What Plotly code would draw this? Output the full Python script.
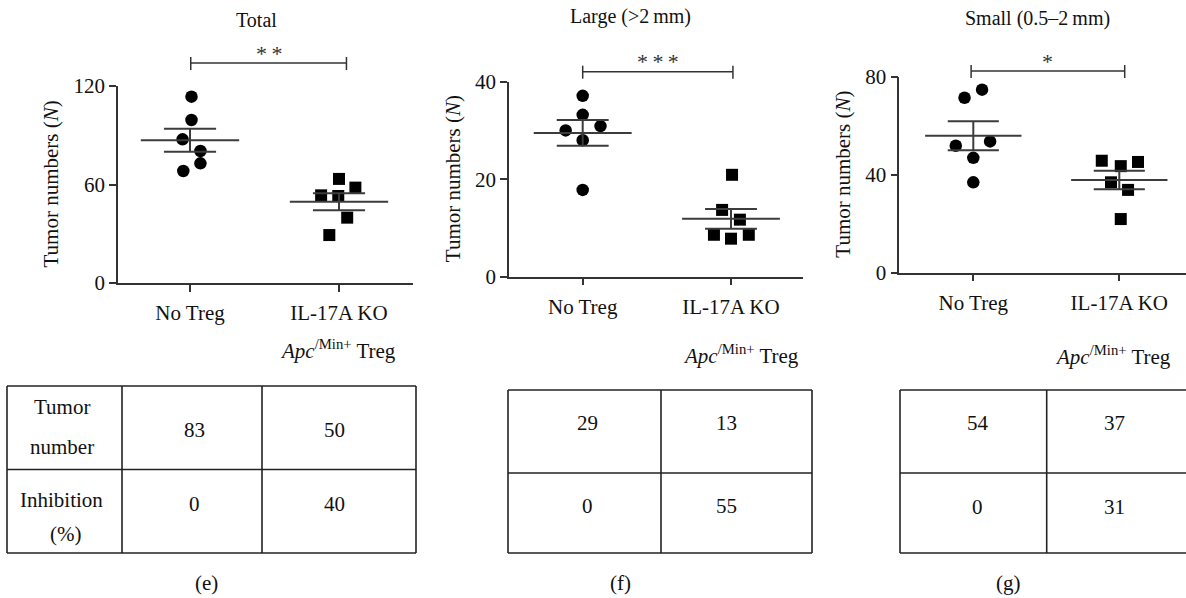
import numpy as np
import plotly.graph_objects as go

W, H = 1186, 598
FONT = "Liberation Serif, 'Times New Roman', Times, 'DejaVu Serif', serif"
INK = "#111111"
LINE = "#333333"

# ---------------- data ----------------
groups = ["No Treg", "IL-17A KO"]
titles = ["Total", "Large (>2\u2009mm)", "Small (0.5\u20132\u2009mm)"]
stars = ["*\u2009*", "*\u2009*\u2009*", "*"]
captions = ["(e)", "(f)", "(g)"]
y_ticks = [[0, 60, 120], [0, 20, 40], [0, 40, 80]]
y_max = [120, 40, 80]

total_no_treg = [113.5, 99.3, 87.5, 80.4, 72.9, 68.2]
total_ko = [63.4, 58.1, 53.4, 53.0, 39.8, 29.2]
large_no_treg = [37.1, 33.2, 30.9, 30.0, 28.0, 17.8]
large_ko = [20.9, 13.7, 11.7, 8.6, 7.8, 8.6]
small_no_treg = [74.7, 71.4, 53.6, 51.8, 46.9, 36.9]
small_ko = [45.7, 45.2, 43.5, 36.9, 33.8, 21.9]

# horizontal scatter offsets of the dots (category units)
jit_total_no = [0.01, 0.01, -0.05, 0.07, 0.07, -0.045]
jit_total_ko = [0.0, 0.11, -0.12, -0.005, 0.055, -0.065]
jit_large_no = [0.0, 0.0, 0.12, -0.115, 0.0, 0.0]
jit_large_ko = [0.007, -0.06, 0.06, -0.115, 0.0, 0.12]
jit_small_no = [0.06, -0.06, 0.115, -0.12, 0.0, 0.0]
jit_small_ko = [-0.12, 0.128, 0.01, -0.057, 0.06, 0.01]

table_tumor_number = [[83, 50], [29, 13], [54, 37]]
table_inhibition = [[0, 40], [0, 55], [0, 31]]
row_labels_1 = ["Tumor", "number"]
row_labels_2 = ["Inhibition", "(%)"]
treg_label = "<i>Apc</i><sup>/Min+</sup> Treg"

series = [
    (total_no_treg, total_ko, jit_total_no, jit_total_ko),
    (large_no_treg, large_ko, jit_large_no, jit_large_ko),
    (small_no_treg, small_ko, jit_small_no, jit_small_ko),
]

# ---------------- layout geometry (pixels) ----------------
axes_px = [
    (118, 413, 86, 283, 190, 339),
    (509, 803, 81.7, 276.7, 582.7, 731),
    (899.3, 1186, 76.7, 272.7, 973.3, 1119.3),
]
title_pos = [(256, 20), (630, 17), (1037, 19)]
bracket = [(0.005, 1.05, 63), (0.0, 1.013, 71.7), (-0.015, 1.037, 71)]
ytitle_x = [50, 453, 843]
treg_pos = [(338, 349), (741, 354), (1113, 355)]
tables = [
    dict(cols=[7, 122, 262, 416], rows=[386, 469.5, 553], ty=[430, 504]),
    dict(cols=[508, 661, 812], rows=[390, 473, 553], ty=[423, 506]),
    dict(cols=[900, 1046.7, 1192], rows=[390, 473, 553], ty=[423, 507]),
]
caption_pos = [(206, 583), (620, 583), (1008, 583)]


def px(x):
    return x / W


def py(y):
    return 1 - y / H


fig = go.Figure()
shapes = []
annotations = []

for i, (no, ko, jn, jk) in enumerate(series):
    x0, x1, top, bot, c0, c1 = axes_px[i]
    sfx = "" if i == 0 else str(i + 1)
    xa, ya = "x" + sfx, "y" + sfx
    unit = c1 - c0
    xr = [(x0 - c0) / unit, (x1 - c0) / unit]

    fig.add_trace(go.Scatter(
        x=[0 + j for j in jn], y=no, mode="markers", xaxis=xa, yaxis=ya,
        marker=dict(symbol="circle", size=12.5, color="black"), showlegend=False,
        cliponaxis=False))
    fig.add_trace(go.Scatter(
        x=[1 + j for j in jk], y=ko, mode="markers", xaxis=xa, yaxis=ya,
        marker=dict(symbol="square", size=12, color="black"), showlegend=False,
        cliponaxis=False))

    lx, ly = [], []
    for g, vals in enumerate([no, ko]):
        v = np.array(vals, dtype=float)
        m = v.mean()
        sem = v.std(ddof=1) / np.sqrt(len(v))
        lx += [g - 0.33, g + 0.33, None, g - 0.175, g + 0.175, None,
               g - 0.175, g + 0.175, None, g, g, None]
        ly += [m, m, None, m + sem, m + sem, None, m - sem, m - sem, None,
               m - sem, m + sem, None]
    fig.add_trace(go.Scatter(x=lx, y=ly, mode="lines", xaxis=xa, yaxis=ya,
                             line=dict(color="#3c3c3c", width=2),
                             showlegend=False, hoverinfo="skip"))

    xkw = dict(domain=[px(x0), px(x1)], range=xr, anchor=ya, automargin=False,
               tickvals=[0, 1], ticktext=groups, ticks="outside", ticklen=7,
               tickwidth=1.5, tickcolor=LINE, showline=True, linewidth=1.5,
               linecolor=LINE, showgrid=False, zeroline=False,
               tickfont=dict(family=FONT, size=21, color=INK),
               ticklabelstandoff=3, fixedrange=True)
    ykw = dict(domain=[py(bot), py(top)], range=[0, y_max[i]], anchor=xa, automargin=False,
               tickvals=y_ticks[i], ticks="outside", ticklen=7, tickwidth=1.5,
               tickcolor=LINE, showline=True, linewidth=1.5, linecolor=LINE,
               showgrid=False, zeroline=False,
               tickfont=dict(family=FONT, size=21, color=INK), fixedrange=True)
    fig.update_layout(**{"xaxis" + sfx: xkw, "yaxis" + sfx: ykw})

    annotations.append(dict(text=titles[i], x=px(title_pos[i][0]), y=py(title_pos[i][1]),
                            xref="paper", yref="paper", showarrow=False,
                            xanchor="center", yanchor="middle",
                            font=dict(family=FONT, size=20, color=INK)))
    bx0, bx1, by = bracket[i]
    shapes.append(dict(type="line", xref=xa, yref="paper", x0=bx0, x1=bx1,
                       y0=py(by), y1=py(by), line=dict(color=LINE, width=1.5)))
    for bx in (bx0, bx1):
        shapes.append(dict(type="line", xref=xa, yref="paper", x0=bx, x1=bx,
                           y0=py(by - 6), y1=py(by + 7), line=dict(color=LINE, width=1.5)))
    annotations.append(dict(text=stars[i], x=(bx0 + bx1) / 2, y=py(by - 10),
                            xref=xa, yref="paper", showarrow=False,
                            xanchor="center", yanchor="middle",
                            font=dict(family=FONT, size=22, color="#333333")))
    annotations.append(dict(text="Tumor numbers (<i>N</i>)", x=px(ytitle_x[i]),
                            y=py((top + bot) / 2), xref="paper", yref="paper",
                            showarrow=False, textangle=-90, xanchor="center",
                            yanchor="middle",
                            font=dict(family=FONT, size=21, color=INK)))
    annotations.append(dict(text=treg_label, x=px(treg_pos[i][0]), y=py(treg_pos[i][1]),
                            xref="paper", yref="paper", showarrow=False,
                            xanchor="center", yanchor="middle",
                            font=dict(family=FONT, size=21, color=INK)))

    t = tables[i]
    cols, rows = t["cols"], t["rows"]
    for r in rows:
        shapes.append(dict(type="line", xref="paper", yref="paper",
                           x0=px(cols[0]), x1=px(cols[-1]), y0=py(r), y1=py(r),
                           line=dict(color="#222222", width=1.6)))
    for c in cols:
        shapes.append(dict(type="line", xref="paper", yref="paper",
                           x0=px(c), x1=px(c), y0=py(rows[0]), y1=py(rows[-1]),
                           line=dict(color="#222222", width=1.6)))
    for g in range(2):
        dx = 0.03 if g == 0 else -0.03
        annotations.append(dict(text=str(table_tumor_number[i][g]), x=g + dx,
                                y=py(t["ty"][0]), xref=xa, yref="paper",
                                showarrow=False, xanchor="center", yanchor="middle",
                                font=dict(family=FONT, size=21, color=INK)))
        annotations.append(dict(text=str(table_inhibition[i][g]), x=g + dx,
                                y=py(t["ty"][1]), xref=xa, yref="paper",
                                showarrow=False, xanchor="center", yanchor="middle",
                                font=dict(family=FONT, size=21, color=INK)))
    if len(cols) == 4:
        cx = (cols[0] + cols[1]) / 2 - 3
        for lbl, yy in zip(row_labels_1, [407, 447]):
            annotations.append(dict(text=lbl, x=px(cx), y=py(yy), xref="paper", yref="paper",
                                    showarrow=False, xanchor="center", yanchor="middle",
                                    font=dict(family=FONT, size=21, color=INK)))
        for lbl, yy in zip(row_labels_2, [500, 534]):
            annotations.append(dict(text=lbl, x=px(cx + (4 if lbl == "(%)" else 0)), y=py(yy),
                                    xref="paper", yref="paper",
                                    showarrow=False, xanchor="center", yanchor="middle",
                                    font=dict(family=FONT, size=21, color=INK)))
    annotations.append(dict(text=captions[i], x=px(caption_pos[i][0]), y=py(caption_pos[i][1]),
                            xref="paper", yref="paper", showarrow=False,
                            xanchor="center", yanchor="middle",
                            font=dict(family=FONT, size=21, color=INK)))

fig.update_layout(width=W, height=H, autosize=False,
                  margin=dict(l=0, r=0, t=0, b=0, pad=0, autoexpand=False),
                  paper_bgcolor="white", plot_bgcolor="white",
                  font=dict(family=FONT, color=INK),
                  shapes=shapes, annotations=annotations, showlegend=False)

fig.write_html("out.html", config={"displayModeBar": False},
               post_script="document.body.style.margin='0';document.body.style.overflow='hidden';")
